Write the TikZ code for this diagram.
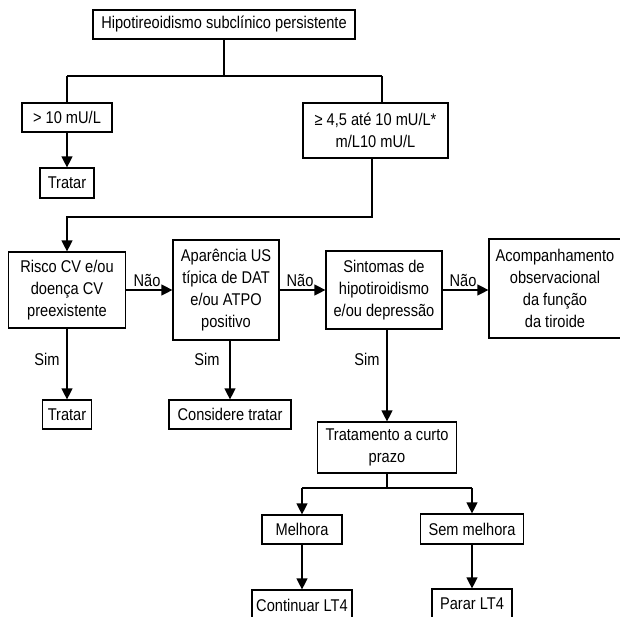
\documentclass[tikz,border=0pt]{standalone}
\usepackage{fontspec}
\setmainfont[FakeStretch=0.86]{Liberation Sans}
\usetikzlibrary{arrows.meta}
\begin{document}
\begin{tikzpicture}[x=1pt,y=-1pt,
  box/.style={draw,line width=1.2pt,inner sep=0pt,align=center,font=\fontsize{17}{22}\selectfont},
  arr/.style={line width=1.2pt,-{Triangle[length=11pt,width=11pt]}},
  ln/.style={line width=1.2pt},
  lbl/.style={font=\fontsize{17}{22}\selectfont,inner sep=0pt}]
\useasboundingbox (0,0) rectangle (620,616);
% boxes
\node[box,minimum width=262pt,minimum height=29pt] (top) at (224,24.5) {Hipotireoidismo subclínico persistente};
\node[box,minimum width=90pt,minimum height=29pt] (gt10) at (67,117.5) {> 10 mU/L};
\node[box,minimum width=54pt,minimum height=30pt] (tr1) at (67,183) {Tratar};
\node[box,minimum width=145pt,minimum height=55pt] (mid) at (375.5,130.5) {≥ 4,5 até 10 mU/L*\\m/L10 mU/L};
\node[box,minimum width=117pt,minimum height=76pt] (risco) at (67,290) {Risco CV e/ou\\doença CV\\preexistente};
\node[box,minimum width=106pt,minimum height=100pt] (apar) at (226,290) {Aparência US\\típica de DAT\\e/ou ATPO\\positivo};
\node[box,minimum width=116pt,minimum height=78pt] (sint) at (384,290) {Sintomas de\\hipotiroidismo\\e/ou depressão};
\node[box,minimum width=132pt,minimum height=99pt] (acomp) at (555,288.5) {Acompanhamento\\observacional\\da função\\da tiroide};
\node[box,minimum width=49pt,minimum height=29pt] (tr2) at (67,414.5) {Tratar};
\node[box,minimum width=122pt,minimum height=29pt] (cons) at (230,414.5) {Considere tratar};
\node[box,minimum width=139pt,minimum height=51pt] (tto) at (387,447.5) {Tratamento a curto\\prazo};
\node[box,minimum width=80pt,minimum height=29pt] (melh) at (302,529.5) {Melhora};
\node[box,minimum width=103pt,minimum height=30pt] (semm) at (472,529) {Sem melhora};
\node[box,minimum width=100pt,minimum height=30pt] (cont) at (302,605) {Continuar LT4};
\node[box,minimum width=80pt,minimum height=30pt] (parar) at (472,604) {Parar LT4};
% junctions
\coordinate (j1) at (224,76);
\coordinate (jl) at (67,76);
\coordinate (jr) at (382,76);
\coordinate (k1) at (372,217);
\coordinate (k2) at (67,217);
\coordinate (b1) at (387,488);
\coordinate (bl) at (302,488);
\coordinate (br) at (472,488);
% connectors
\draw[ln] (top.south) -- (j1);
\draw[ln] (jl) -- (jr);
\draw[ln] (jl) -- (gt10.north);
\draw[ln] (jr) -- (jr |- mid.north);
\draw[arr] (gt10) -- (tr1);
\draw[arr] (k1 |- mid.south) -- (k1) -- (k2) -- (risco.north);
\draw[arr] (risco.east) -- (apar.west);
\draw[arr] (apar.east) -- (sint.west);
\draw[arr] (sint.east) -- (sint.east -| acomp.west);
\draw[arr] (risco.south) -- (tr2.north);
\draw[arr] (cons.north |- apar.south) -- (cons.north);
\draw[arr] (tto.north |- sint.south) -- (tto.north);
\draw[ln] (tto.south) -- (b1);
\draw[ln] (bl) -- (br);
\draw[arr] (bl) -- (melh.north);
\draw[arr] (br) -- (semm.north);
\draw[arr] (melh.south) -- (cont.north);
\draw[arr] (semm.south) -- (parar.north);
% labels
\node[lbl] (n1) at (147,280) {Não};
\node[lbl] (n2) at (300,280) {Não};
\node[lbl] (n3) at (463,280) {Não};
\node[lbl] (s1) at (47,359) {Sim};
\node[lbl] (s2) at (207,359) {Sim};
\node[lbl] (s3) at (367,359) {Sim};
\end{tikzpicture}
\end{document}
